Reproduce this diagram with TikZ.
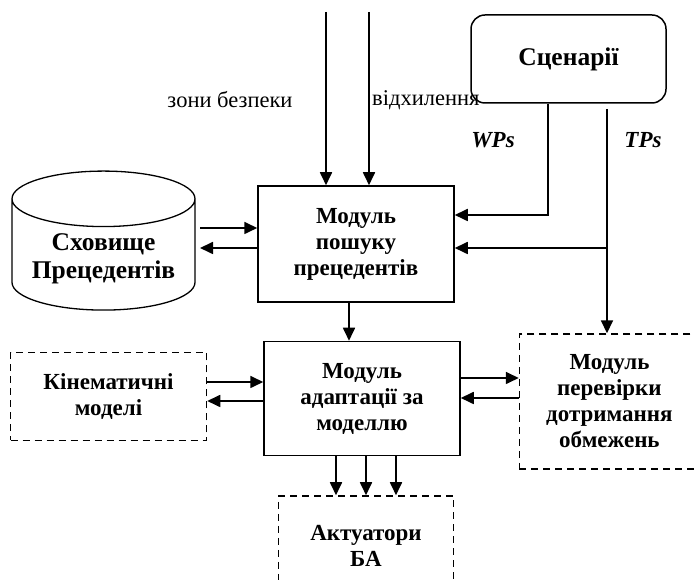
\documentclass[tikz,border=0pt]{standalone}
\usepackage{fontspec}
\setmainfont{Liberation Serif}
\usepackage{tikz}
\usetikzlibrary{positioning,arrows.meta,shapes.geometric}

\begin{document}
\begin{tikzpicture}[x=1pt, y=1pt,
  txt/.style={font=\bfseries\fontsize{23}{26}\selectfont, align=center},
  big/.style={font=\bfseries\fontsize{25.5}{28}\selectfont},
  block/.style={txt, draw, line width=1.5pt, minimum width=196pt, minimum height=116pt},
  ext/.style={txt, draw, line width=1.4pt, dash pattern=on 7pt off 5pt},
  arr/.style={line width=1.7pt, -{Triangle[length=13pt,width=12pt]}},
  lab/.style={font=\fontsize{22.5}{26}\selectfont}]
\useasboundingbox (0,0) rectangle (694,580);
\node[block] (search) at (356,336) {Модуль\\пошуку\\прецедентів};
\node[block, minimum height=114pt, below=38pt of search, xshift=6pt] (adapt) {Модуль\\адаптації за\\моделлю};
\node[ext, minimum width=196pt, minimum height=88pt, left=56pt of adapt, yshift=2pt] (kin) {Кінематичні\\моделі};
\node[ext, minimum width=180pt, minimum height=135pt, right=58pt of adapt, yshift=-3pt] (check) {Модуль\\перевірки\\дотримання\\обмежень};
\node[ext, minimum width=175pt, minimum height=100pt, below=39pt of adapt, xshift=4pt] (act) {Актуатори\\БА};
\node[cylinder, draw, line width=1.3pt, txt, big, shape border rotate=90, aspect=0.37,
  minimum width=183pt, minimum height=139pt] (store) at (103.5,321.5) {Сховище\\Прецедентів};
\node[txt, big, draw, line width=1.5pt, rounded corners=14pt, minimum width=195pt, minimum height=88pt] (scen) at (568.5,521) {Сценарії};
% inputs from above
\coordinate (zone) at (326,568);
\coordinate (dev) at (369,568);
\node[lab] (zoneL) at (230,480) {зони безпеки};
\node[lab, anchor=west, inner sep=1pt] (devL) at (371,480) {відхилення};
\draw[arr] (zone) -- (zone |- search.north);
\draw[arr] (dev) -- (dev |- search.north);
% cases store
\coordinate (storeR) at (200,0);
\draw[arr] (storeR |- 0,352) -- (search.west |- 0,352);
\draw[arr] (search.west |- 0,332) -- (storeR |- 0,332);
% scenarios
\coordinate (wp) at (548,0);
\coordinate (tp) at (607,471);
\node[txt, font=\bfseries\itshape\fontsize{23}{26}\selectfont] (wpL) at (493,440) {WPs};
\node[txt, font=\bfseries\itshape\fontsize{23}{26}\selectfont] (tpL) at (643,440) {TPs};
\draw[arr] (scen.south -| wp) |- (search.east |- 0,365);
\draw[arr] (tp) -- (tp |- check.north);
\draw[arr] (tp |- 0,332) -- (search.east |- 0,332);
% adaptation
\draw[arr] (search.south -| 349,0) -- (adapt.north -| 349,0);
\draw[arr] (kin.east |- 0,198) -- (adapt.west |- 0,198);
\draw[arr] (adapt.west |- 0,179) -- (kin.east |- 0,179);
\draw[arr] (adapt.east |- 0,202) -- (check.west |- 0,202);
\draw[arr] (check.west |- 0,182) -- (adapt.east |- 0,182);
\foreach \x in {336,366,396}
  \draw[arr] (adapt.south -| \x,0) -- (act.north -| \x,0);
\end{tikzpicture}
\end{document}
